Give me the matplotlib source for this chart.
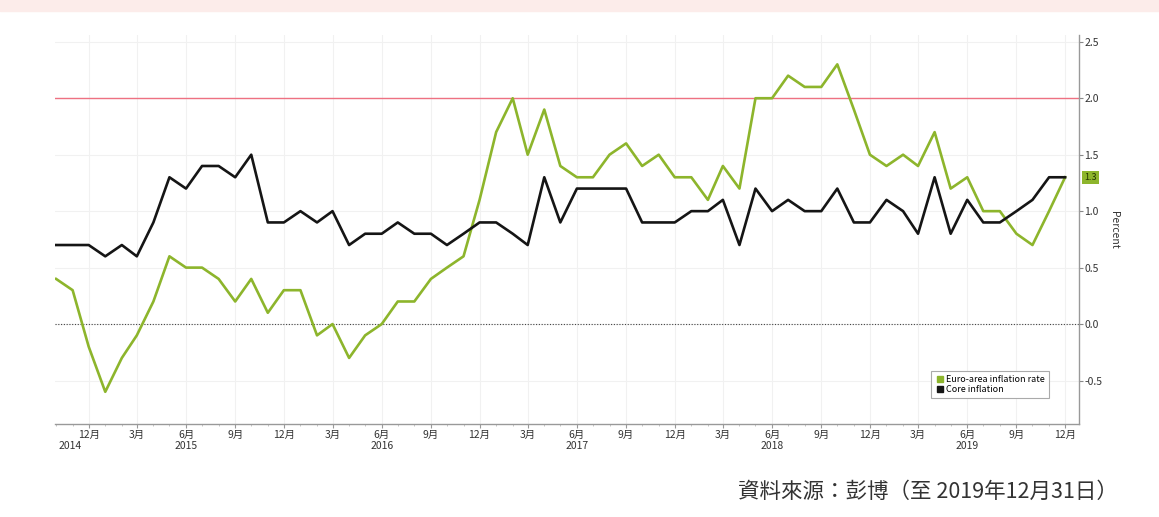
import matplotlib.pyplot as plt
import matplotlib.dates as mdates
from matplotlib.patches import Rectangle
from matplotlib.lines import Line2D
import pandas as pd

plt.rcParams['font.family'] = ['Noto Sans CJK TC', 'DejaVu Sans']

# monthly data, Oct 2014 - Dec 2019
months = pd.date_range('2014-10-01', periods=63, freq='MS')

euro_infl = [0.4, 0.3, -0.2,
             -0.6, -0.3, -0.1, 0.2, 0.6, 0.5, 0.5, 0.4, 0.2, 0.4, 0.1, 0.3,
             0.3, -0.1, 0.0, -0.3, -0.1, 0.0, 0.2, 0.2, 0.4, 0.5, 0.6, 1.1,
             1.7, 2.0, 1.5, 1.9, 1.4, 1.3, 1.3, 1.5, 1.6, 1.4, 1.5, 1.3,
             1.3, 1.1, 1.4, 1.2, 2.0, 2.0, 2.2, 2.1, 2.1, 2.3, 1.9, 1.5,
             1.4, 1.5, 1.4, 1.7, 1.2, 1.3, 1.0, 1.0, 0.8, 0.7, 1.0, 1.3]

core_infl = [0.7, 0.7, 0.7,
             0.6, 0.7, 0.6, 0.9, 1.3, 1.2, 1.4, 1.4, 1.3, 1.5, 0.9, 0.9,
             1.0, 0.9, 1.0, 0.7, 0.8, 0.8, 0.9, 0.8, 0.8, 0.7, 0.8, 0.9,
             0.9, 0.8, 0.7, 1.3, 0.9, 1.2, 1.2, 1.2, 1.2, 0.9, 0.9, 0.9,
             1.0, 1.0, 1.1, 0.7, 1.2, 1.0, 1.1, 1.0, 1.0, 1.2, 0.9, 0.9,
             1.1, 1.0, 0.8, 1.3, 0.8, 1.1, 0.9, 0.9, 1.0, 1.1, 1.3, 1.3]

target = 2.0
year_labels = ['2014', '2015', '2016', '2017', '2018', '2019']
year_pos = ['2014-10-27', '2015-06-01', '2016-06-01', '2017-06-01', '2018-06-01', '2019-06-01']
source_text = '資料來源：彭博（至 2019年12月31日）'

green = '#8db52c'
black = '#151515'

fig = plt.figure(figsize=(11.59, 5.17), dpi=100)
fig.patches.append(Rectangle((0, 0.978), 1, 0.022, transform=fig.transFigure,
                             color='#fcecea', zorder=0))

W, H = 1159, 517
ax = fig.add_axes([55 / W, (H - 424) / H, 1024 / W, 389 / H])

ax.plot(months, euro_infl, color=green, lw=1.9, label='Euro-area inflation rate', zorder=3)
ax.plot(months, core_infl, color=black, lw=1.9, label='Core inflation', zorder=4)
ax.axhline(target, color='#ee7182', lw=1.0, zorder=2)
ax.axhline(0, color='#444444', lw=0.8, ls=(0, (1, 1.5)), zorder=2)

ax.set_ylim(-0.885, 2.56)
ax.set_xlim(mdates.date2num(months[0]) - 2, mdates.date2num(months[-1]) + 26)

ax.xaxis.set_major_locator(mdates.MonthLocator(bymonth=[3, 6, 9, 12]))
ax.xaxis.set_major_formatter(mdates.DateFormatter('%-m月'))
ax.xaxis.set_minor_locator(mdates.MonthLocator())
ax.yaxis.tick_right()
ax.yaxis.set_label_position('right')
ax.set_yticks([-0.5, 0.0, 0.5, 1.0, 1.5, 2.0, 2.5])
ax.set_yticklabels([f'{v:.1f}' for v in [-0.5, 0.0, 0.5, 1.0, 1.5, 2.0, 2.5]])
ax.set_ylabel('Percent', rotation=270, labelpad=12, fontsize=7.5, color='#333333')

ax.tick_params(axis='x', which='major', labelsize=7.5, colors='#333333', length=3,
               color='#999999', pad=1)
ax.tick_params(axis='x', which='minor', length=1.5, color='#bbbbbb')
ax.tick_params(axis='y', labelsize=7.5, colors='#333333', length=3, color='#888888', pad=1)

for s in ['left', 'top']:
    ax.spines[s].set_visible(False)
for s in ['right', 'bottom']:
    ax.spines[s].set_color('#999999')
    ax.spines[s].set_linewidth(1.0)

ax.grid(True, which='major', color='#f1f1f1', lw=0.8)
ax.set_axisbelow(True)

for lab, pos in zip(year_labels, year_pos):
    ax.annotate(lab, xy=(mdates.date2num(pd.Timestamp(pos)), 0),
                xycoords=('data', 'axes fraction'), xytext=(0, -12.5),
                textcoords='offset points', ha='center', va='top',
                fontsize=7.5, color='#333333')

# last value tag
ax.annotate(f'{euro_infl[-1]:.1f}', xy=(1, euro_infl[-1]), xycoords=('axes fraction', 'data'),
            xytext=(4, 0), textcoords='offset points', ha='left', va='center',
            fontsize=6.5, color='#223300',
            bbox=dict(boxstyle='square,pad=0.25', fc=green, ec='none'))

handles = [Line2D([], [], marker='s', ls='none', color=green, markersize=4.5),
           Line2D([], [], marker='s', ls='none', color=black, markersize=4.5)]
leg = ax.legend(handles, ['Euro-area inflation rate', 'Core inflation'],
                loc='lower right', bbox_to_anchor=(0.975, 0.054), fontsize=6.5,
                frameon=True, fancybox=False, edgecolor='#aaaaaa', framealpha=1,
                handletextpad=0.1, handlelength=1.0, borderpad=0.5, labelspacing=0.1)
leg.get_frame().set_linewidth(0.8)

fig.text(1118 / W, (H - 492) / H, source_text, ha='right', va='center',
         fontsize=15.5, color='#333333')

fig.savefig('out.png', dpi=100)
